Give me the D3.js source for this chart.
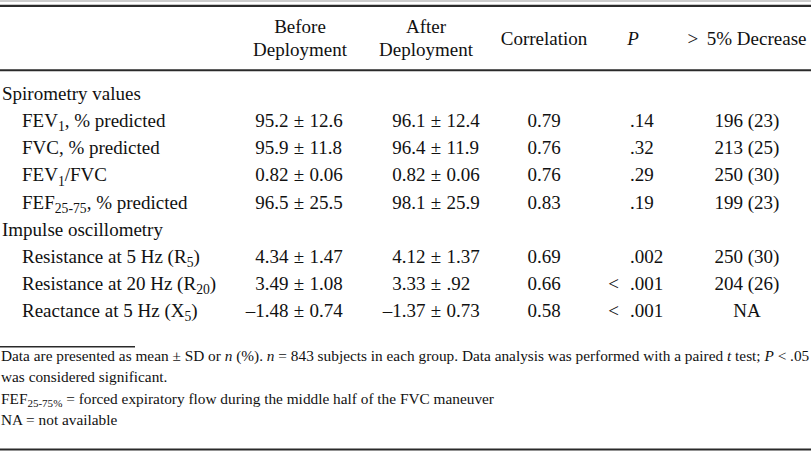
<!DOCTYPE html>
<html><head><meta charset="utf-8">
<script src="https://cdn.jsdelivr.net/npm/d3@7"></script>
<style>
html,body{margin:0;padding:0;background:#fff;}
svg{display:block;}
text{font-family:"Liberation Serif","Times New Roman",serif;fill:#111;}
</style></head>
<body>
<svg id="c" width="811" height="451"></svg>
<script>
// ---- data ----
const headers1 = ["Before", "After"];
const headers2 = ["Deployment", "Deployment"];
const otherHeaders = ["Correlation", "P", ">\u2009 5% Decrease"];
const sections = ["Spirometry values", "Impulse oscillometry"];
const rowLabels = ["FEV_{1}, % predicted", "FVC, % predicted", "FEV_{1}/FVC", "FEF_{25-75}, % predicted",
                   "Resistance at 5 Hz (R_{5})", "Resistance at 20 Hz (R_{20})", "Reactance at 5 Hz (X_{5})"];
const rowSection = [0, 0, 0, 0, 1, 1, 1];
const beforeMean = ["95.2", "95.9", "0.82", "96.5", "4.34", "3.49", "\u20131.48"];
const beforeSD   = ["12.6", "11.8", "0.06", "25.5", "1.47", "1.08", "0.74"];
const afterMean  = ["96.1", "96.4", "0.82", "98.1", "4.12", "3.33", "\u20131.37"];
const afterSD    = ["12.4", "11.9", "0.06", "25.9", "1.37", ".92", "0.73"];
const correlation = ["0.79", "0.76", "0.76", "0.83", "0.69", "0.66", "0.58"];
const pValues = [".14", ".32", ".29", ".19", ".002", "< .001", "< .001"];
const decrease = ["196 (23)", "213 (25)", "250 (30)", "199 (23)", "250 (30)", "204 (26)", "NA"];
const footnotes = [
  "Data are presented as mean \u00b1 SD or *n* (%). *n* = 843 subjects in each group. Data analysis was performed with a paired *t* test; *P* < .05",
  "was considered significant.",
  "FEF_{25-75%} = forced expiratory flow during the middle half of the FVC maneuver",
  "NA = not available"
];

// ---- layout ----
const svg = d3.select("#c");
const W = 811;
const col = d3.scaleOrdinal()
  .domain(["sec", "label", "before", "after", "corr", "p", "dec"])
  .range([2, 22, 299, 436, 544, 630, 747]);
const headerX = d3.scaleOrdinal().domain(["before", "after"]).range([300, 426]);
const rowY = d3.scaleLinear().domain([0, 8]).range([100, 317]);
const footY = d3.scaleLinear().domain([0, 3]).range([361, 425.5]);
const FS = 19;

// build body row list (section headers interleaved)
const body = [];
let last = -1;
rowLabels.forEach((l, i) => {
  if (rowSection[i] !== last) { body.push({type: "sec", text: sections[rowSection[i]]}); last = rowSection[i]; }
  body.push({type: "row", i});
});

// rich text helper: _{sub} and *italic*
function rich(sel, str, fs, subFs) {
  const re = /(_\{[^}]*\}|\*[^*]*\*)/g;
  const parts = str.split(re).filter(s => s.length);
  let shifted = false;
  parts.forEach(p => {
    const t = sel.append("tspan");
    if (p.startsWith("_{")) {
      t.text(p.slice(2, -1)).attr("font-size", subFs).attr("dy", fs * 0.22);
      shifted = true;
    } else {
      if (shifted) { t.attr("dy", -fs * 0.22); shifted = false; }
      if (p.startsWith("*")) t.text(p.slice(1, -1)).attr("font-style", "italic");
      else t.text(p);
    }
  });
}

// rules
const rules = [
  {x1: 0, x2: W, y: 1, w: 1.2, c: "#9a9a9a"},
  {x1: 0, x2: W, y: 5.8, w: 2.2, c: "#2a2a2a"},
  {x1: 0, x2: W, y: 70.3, w: 2, c: "#2a2a2a"},
  {x1: 0, x2: 135, y: 346.8, w: 1.6, c: "#2a2a2a"},
  {x1: 0, x2: W, y: 449.5, w: 2.2, c: "#2a2a2a"}
];
svg.selectAll("line.rule").data(rules).join("line").attr("class", "rule")
  .attr("x1", d => d.x1).attr("x2", d => d.x2).attr("y1", d => d.y).attr("y2", d => d.y)
  .attr("stroke", d => d.c).attr("stroke-width", d => d.w);

// headers
const hdr = svg.append("g").attr("font-size", FS);
["before", "after"].forEach((k, j) => {
  hdr.append("text").attr("x", headerX(k)).attr("y", 33).attr("text-anchor", "middle").text(headers1[j]);
  hdr.append("text").attr("x", headerX(k)).attr("y", 55.5).attr("text-anchor", "middle").text(headers2[j]);
});
hdr.append("text").attr("x", col("corr")).attr("y", 44.5).attr("text-anchor", "middle").text(otherHeaders[0]);
hdr.append("text").attr("x", 633).attr("y", 44.5).attr("text-anchor", "middle").attr("font-style", "italic").text(otherHeaders[1]);
hdr.append("text").attr("x", col("dec")).attr("y", 44.5).attr("text-anchor", "middle").text(otherHeaders[2]);

// body
const g = svg.append("g").attr("font-size", FS);
body.forEach((r, k) => {
  const y = rowY(k);
  if (r.type === "sec") {
    g.append("text").attr("x", col("sec")).attr("y", y).text(r.text);
    return;
  }
  const i = r.i;
  rich(g.append("text").attr("x", col("label")).attr("y", y), rowLabels[i], FS, FS * 0.72);
  [["before", beforeMean, beforeSD], ["after", afterMean, afterSD]].forEach(([k2, m, s]) => {
    const cx = col(k2);
    g.append("text").attr("x", cx - 10.5).attr("y", y).attr("text-anchor", "end").text(m[i]);
    g.append("text").attr("x", cx).attr("y", y).attr("text-anchor", "middle").text("\u00b1");
    g.append("text").attr("x", cx + 10.5).attr("y", y).attr("text-anchor", "start").text(s[i]);
  });
  g.append("text").attr("x", col("corr")).attr("y", y).attr("text-anchor", "middle").text(correlation[i]);
  const pv = pValues[i];
  if (pv.startsWith("<")) {
    g.append("text").attr("x", col("p") - 11).attr("y", y).attr("text-anchor", "end").text("<");
    g.append("text").attr("x", col("p")).attr("y", y).text(pv.replace(/^<\s*/, ""));
  } else {
    g.append("text").attr("x", col("p")).attr("y", y).text(pv);
  }
  g.append("text").attr("x", col("dec")).attr("y", y).attr("text-anchor", "middle").text(decrease[i]);
});

// footnotes (condensed)
const FF = 15;
const fg = svg.append("g").attr("font-size", FF);
const fnodes = footnotes.map((f, j) => {
  const t = fg.append("text").attr("x", 0).attr("y", footY(j));
  rich(t, f, FF, FF * 0.72);
  return t;
});
const w0 = fnodes[0].node().getComputedTextLength();
const sx = 809 / w0;
fnodes.forEach((t, j) => {
  const y = footY(j);
  t.attr("x", 1 / sx).attr("transform", `translate(0,${y}) scale(${sx},1) translate(0,${-y})`);
});
</script>
</body></html>
